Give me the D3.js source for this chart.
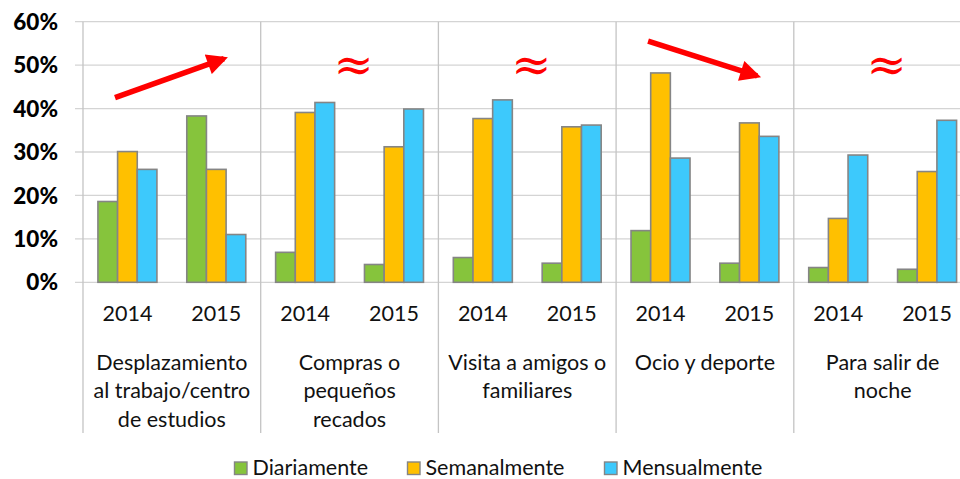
<!DOCTYPE html>
<html>
<head>
<meta charset="utf-8">
<script src="https://cdn.jsdelivr.net/npm/d3@7"></script>
<style>
  html, body { margin: 0; padding: 0; background: #fff; }
  svg { display: block; font-family: Lato, "Open Sans", sans-serif; }
</style>
</head>
<body>
<svg id="chart" width="960" height="479"></svg>
<script>
const categories = [
  ['Desplazamiento', 'al trabajo/centro', 'de estudios'],
  ['Compras o', 'pequeños', 'recados'],
  ['Visita a amigos o', 'familiares'],
  ['Ocio y deporte'],
  ['Para salir de', 'noche']
];
const years = ['2014', '2015'];
const series = ['Diariamente', 'Semanalmente', 'Mensualmente'];
const colors = ['#86c43c', '#ffc000', '#3dc9fc'];

// values per category, per year: [diario, semanal, mensual] in %
const diariamente  = [[18.6, 38.3], [6.9, 4.1], [5.7, 4.4], [11.9, 4.4], [3.4, 3.0]];
const semanalmente = [[30.1, 26.0], [39.1, 31.2], [37.7, 35.8], [48.2, 36.7], [14.7, 25.5]];
const mensualmente = [[26.0, 11.0], [41.4, 39.9], [42.0, 36.2], [28.6, 33.6], [29.3, 37.3]];
const yTicks = [0, 10, 20, 30, 40, 50, 60];

// trend marks drawn over the chart: arrows (up / down) and "≈"
const trends = ['up', 'same', 'same', 'down', 'same'];

const svg = d3.select('#chart');
const plotLeft = 83, catW = 177.7, plotTop = 21.7, plotBottom = 282.3;

const x = d3.scaleBand().domain(d3.range(categories.length))
  .range([plotLeft, plotLeft + catW * categories.length]).padding(0);
const xYear = d3.scaleBand().domain(years).range([0, catW]);
const xSeries = d3.scaleBand().domain(series).range([0, 59]);
const y = d3.scaleLinear().domain([0, 60]).range([plotBottom, plotTop]);

const data = [];
categories.forEach((c, ci) => {
  years.forEach((yr, yi) => {
    const vals = [diariamente[ci][yi], semanalmente[ci][yi], mensualmente[ci][yi]];
    vals.forEach((v, si) => data.push({ ci, yr, s: series[si], v, color: colors[si] }));
  });
});

// gridlines
svg.append('g').selectAll('line').data(yTicks).join('line')
  .attr('x1', plotLeft - 8).attr('x2', 960)
  .attr('y1', d => y(d)).attr('y2', d => y(d))
  .attr('stroke', '#d4d4d4').attr('stroke-width', 1.3);

// category separators (incl. left axis)
svg.append('g').selectAll('line').data(d3.range(categories.length))
  .join('line')
  .attr('x1', d => x(d)).attr('x2', d => x(d))
  .attr('y1', plotTop).attr('y2', 433)
  .attr('stroke', '#c4c4c4').attr('stroke-width', 1.3);

// y labels
svg.append('g').selectAll('text').data(yTicks).join('text')
  .attr('x', 58).attr('y', d => y(d)).attr('dy', '0.36em')
  .attr('text-anchor', 'end')
  .attr('font-size', 22.5).attr('font-weight', 900).attr('fill', '#000')
  .text(d => d + '%');

// bars
const bw = xSeries.bandwidth();
svg.append('g').selectAll('rect').data(data).join('rect')
  .attr('x', d => x(d.ci) + xYear(d.yr) + xYear.bandwidth() / 2 - 29.5 + xSeries(d.s))
  .attr('y', d => y(d.v))
  .attr('width', bw)
  .attr('height', d => y(0) - y(d.v))
  .attr('fill', d => d.color)
  .attr('stroke', '#858585').attr('stroke-width', 1.6);

// year labels
const yearG = svg.append('g');
categories.forEach((c, ci) => {
  years.forEach(yr => {
    yearG.append('text')
      .attr('x', x(ci) + xYear(yr) + xYear.bandwidth() / 2)
      .attr('y', 320.5)
      .attr('text-anchor', 'middle').attr('font-size', 21.5).attr('fill', '#111')
      .text(yr);
  });
});

// category labels
svg.append('g').selectAll('text').data(categories).join('text')
  .attr('x', (d, i) => x(i) + catW / 2)
  .attr('y', 369.5)
  .attr('text-anchor', 'middle').attr('font-size', 21.5).attr('fill', '#111')
  .selectAll('tspan').data(d => d).join('tspan')
  .attr('x', function () { return this.parentNode.getAttribute('x'); })
  .attr('dy', (d, i) => i === 0 ? 0 : 28.5)
  .text(d => d);

// annotations
const ann = svg.append('g');
const defs = svg.append('defs');
defs.append('marker').attr('id', 'ah')
  .attr('viewBox', '0 0 10 10').attr('refX', 8).attr('refY', 5)
  .attr('markerWidth', 4.2).attr('markerHeight', 3.8).attr('orient', 'auto')
  .attr('markerUnits', 'strokeWidth')
  .append('path').attr('d', 'M0,0 L10,5 L0,10 Z').attr('fill', '#ff0000');

trends.forEach((t, ci) => {
  const cx = x(ci);
  if (t === 'same') {
    ann.append('text')
      .attr('x', cx + catW / 2 + 4).attr('y', y(50))
      .attr('dy', '0.33em')
      .attr('text-anchor', 'middle').attr('font-size', 48)
      .attr('font-family', 'DejaVu Serif, serif')
      .attr('fill', '#ff0000').text('≈');
  } else {
    const up = t === 'up';
    const y1 = up ? y(42.5) : y(55.5), y2 = up ? y(51.5) : y(47.5);
    ann.append('line')
      .attr('x1', cx + 32).attr('y1', y1)
      .attr('x2', cx + 141).attr('y2', y2)
      .attr('stroke', '#ff0000').attr('stroke-width', 5.5)
      .attr('marker-end', 'url(#ah)');
  }
});

// legend
const legend = svg.append('g');
const legX = [234.5, 407.5, 604.5];
series.forEach((s, i) => {
  legend.append('rect')
    .attr('x', legX[i]).attr('y', 462).attr('width', 12.5).attr('height', 12.5)
    .attr('fill', colors[i]).attr('stroke', '#858585').attr('stroke-width', 1.4);
  legend.append('text')
    .attr('x', legX[i] + 18).attr('y', 467.5).attr('dy', '0.35em')
    .attr('font-size', 21.5).attr('fill', '#111')
    .text(s);
});
</script>
</body>
</html>
